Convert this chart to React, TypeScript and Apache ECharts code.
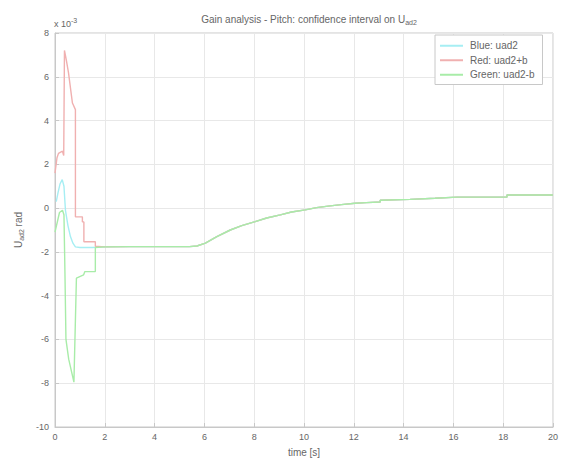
import React, { useEffect, useRef } from "react";
import * as echarts from "echarts";

const xTicks = [0, 2, 4, 6, 8, 10, 12, 14, 16, 18, 20];
const yTicks = [-10, -8, -6, -4, -2, 0, 2, 4, 6, 8];

// Shared settled tail (all three curves coincide after ~1.8 s)
const tailTime = [2.0, 3.0, 4.0, 5.4, 5.7, 6.04, 6.5, 7.04, 7.5, 8.04, 8.5, 9.05, 9.5, 10.05, 10.5, 11.05, 11.5, 12.05, 12.5, 13.06, 13.06, 14.26, 15.26, 16.14, 18.15, 18.15, 20.0];
const tailValue = [-1.77, -1.76, -1.76, -1.76, -1.73, -1.6, -1.3, -1.0, -0.8, -0.62, -0.45, -0.31, -0.18, -0.08, 0.02, 0.1, 0.16, 0.22, 0.25, 0.28, 0.36, 0.4, 0.45, 0.5, 0.5, 0.6, 0.6];

const blueTime = [0.05, 0.12, 0.2, 0.29, 0.36, 0.42, 0.52, 0.62, 0.72, 0.82, 1.0, 1.5];
const blueValue = [0.3, 0.7, 1.1, 1.3, 1.0, -0.1, -0.8, -1.3, -1.6, -1.77, -1.8, -1.8];

const redTime = [0.0, 0.08, 0.14, 0.3, 0.35, 0.38, 0.45, 0.54, 0.7, 0.82, 0.82, 1.1, 1.1, 1.16, 1.16, 1.62, 1.62];
const redValue = [1.6, 2.3, 2.5, 2.6, 2.4, 7.2, 6.8, 6.2, 4.8, 4.5, -0.4, -0.4, -0.63, -0.63, -1.54, -1.54, -1.74];

const greenTime = [0.0, 0.1, 0.18, 0.3, 0.36, 0.4, 0.44, 0.55, 0.76, 0.86, 1.15, 1.2, 1.62, 1.62];
const greenValue = [-1.1, -0.6, -0.2, -0.1, -0.3, -3.0, -6.0, -6.9, -7.95, -3.2, -3.05, -2.9, -2.9, -1.8];

const seriesNames = ["Blue: uad2", "Red: uad2+b", "Green: uad2-b"];
const seriesColors = ["#a6eef3", "#f0b0b0", "#a8eca8"];

const pairs = (t: number[], v: number[]) => t.map((x, i) => [x, v[i]]);

export default function App() {
  const ref = useRef<HTMLDivElement>(null);
  useEffect(() => {
    if (!ref.current) return;
    const chart = echarts.init(ref.current, undefined, { renderer: "svg" });
    const font = "'Liberation Sans', Arial, sans-serif";
    const txt = "#666";
    const tail = pairs(tailTime, tailValue);
    const datasets = [
      pairs(blueTime, blueValue).concat(tail),
      pairs(redTime, redValue).concat(tail),
      pairs(greenTime, greenValue).concat(tail),
    ];
    chart.setOption({
      animation: false,
      backgroundColor: "#ffffff",
      textStyle: { fontFamily: font },
      title: {
        text: "Gain analysis - Pitch: confidence interval on U{sub|ad2}",
        left: 304,
        textAlign: "center",
        top: 7,
        textStyle: {
          fontSize: 10,
          fontWeight: "normal",
          color: txt,
          fontFamily: font,
          rich: {
            sub: { fontSize: 7, color: txt, padding: [7, 0, 0, 0], fontFamily: font },
          },
        },
      },
      graphic: [
        {
          type: "text",
          left: 54,
          top: 17,
          style: {
            text: "x 10{sup|-3}",
            fontSize: 9,
            fill: txt,
            fontFamily: font,
            rich: { sup: { fontSize: 7, fill: txt, padding: [0, 0, 6, 0] } },
          },
        },
      ],
      legend: {
        orient: "vertical",
        left: 435,
        top: 35,
        width: 118,
        padding: [5, 8, 4, 5],
        itemGap: 3,
        itemWidth: 23,
        itemHeight: 2,
        icon: "rect",
        backgroundColor: "#ffffff",
        borderColor: "#c8c8c8",
        borderWidth: 1,
        borderRadius: 0,
        data: seriesNames,
        textStyle: { fontSize: 10, color: txt, fontFamily: font, padding: [0, 0, 0, 2], lineHeight: 11.5 },
      },
      grid: { left: 55, right: 11, top: 33, bottom: 38, show: true, borderColor: "#c8c8c8", borderWidth: 1, backgroundColor: "#fff" },
      xAxis: {
        type: "value",
        min: 0,
        max: 20,
        interval: 2,
        name: "time [s]",
        nameLocation: "middle",
        nameGap: 20,
        nameTextStyle: { fontSize: 10, color: txt, fontFamily: font },
        axisLine: { show: true, onZero: false, lineStyle: { color: "#c8c8c8" } },
        axisTick: { show: true, inside: true, length: 4, lineStyle: { color: "#c8c8c8" } },
        axisLabel: { fontSize: 9, color: txt, margin: 5, fontFamily: font, formatter: (v: number) => (xTicks.includes(v) ? String(v) : "") },
        splitLine: { show: true, lineStyle: { color: "#e8e8e8", width: 1 } },
      },
      yAxis: {
        type: "value",
        min: -10,
        max: 8,
        interval: 2,
        name: "U{sub|ad2} rad",
        nameLocation: "middle",
        nameRotate: 90,
        nameGap: 27,
        nameTextStyle: {
          fontSize: 10,
          color: txt,
          fontFamily: font,
          rich: { sub: { fontSize: 7, color: txt, padding: [7, 0, 0, 0], fontFamily: font } },
        },
        axisLine: { show: true, onZero: false, lineStyle: { color: "#c8c8c8" } },
        axisTick: { show: true, inside: true, length: 4, lineStyle: { color: "#c8c8c8" } },
        axisLabel: { fontSize: 9, color: txt, margin: 6, fontFamily: font, formatter: (v: number) => (yTicks.includes(v) ? String(v) : "") },
        splitLine: { show: true, lineStyle: { color: "#e8e8e8", width: 1 } },
      },
      series: datasets.map((d, i) => ({
        name: seriesNames[i],
        type: "line",
        data: d,
        showSymbol: false,
        symbol: "none",
        color: seriesColors[i],
        lineStyle: { color: seriesColors[i], width: 1.4 },
        itemStyle: { color: seriesColors[i] },
        z: 2 + i,
      })),
    });
    return () => chart.dispose();
  }, []);
  return <div ref={ref} style={{ position: "fixed", left: 0, top: 0, width: 564, height: 465 }} />;
}
